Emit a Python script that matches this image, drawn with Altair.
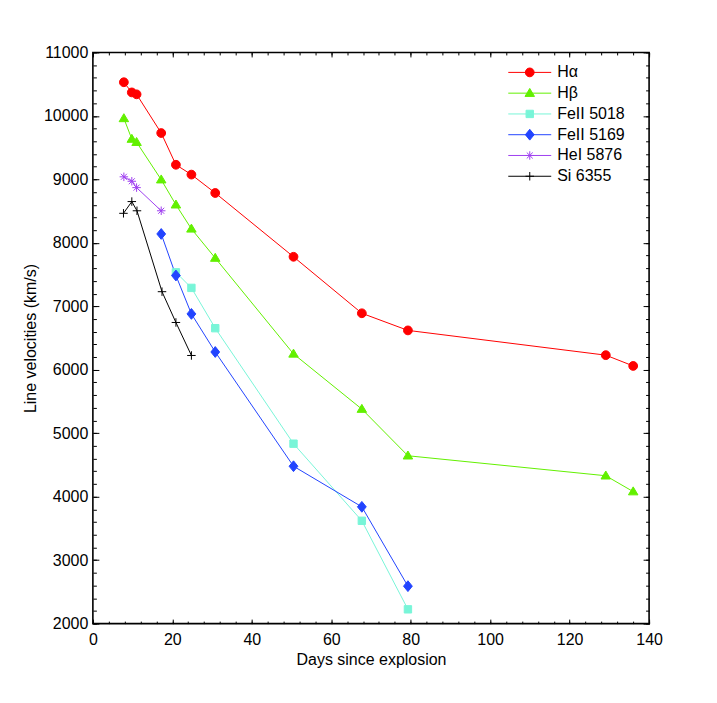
import altair as alt
import pandas as pd

# ---------------- data ----------------
series_names = ["Hα", "Hβ", "FeII 5018", "FeII 5169", "HeI 5876", "Si 6355"]
series_colors = ["#ff0000", "#62f000", "#78f5d8", "#2244ff", "#a040f0", "#000000"]

ha_days = [7.8, 9.8, 11.0, 17.2, 20.9, 24.8, 30.8, 50.5, 67.7, 79.3, 129.1, 136.0]
ha_vel = [10530, 10370, 10340, 9730, 9230, 9075, 8785, 7780, 6890, 6620, 6230, 6060]

hb_days = [7.8, 9.8, 11.0, 17.2, 20.9, 24.8, 30.8, 50.5, 67.7, 79.3, 129.1, 136.0]
hb_vel = [9960, 9635, 9585, 8995, 8600, 8220, 7760, 6250, 5380, 4645, 4330, 4080]

fe5018_days = [20.9, 24.8, 30.8, 50.5, 67.7, 79.3]
fe5018_vel = [7535, 7290, 6655, 4835, 3620, 2225]

fe5169_days = [17.2, 20.9, 24.8, 30.8, 50.5, 67.7, 79.3]
fe5169_vel = [8140, 7485, 6880, 6280, 4480, 3840, 2590]

he_days = [7.8, 9.8, 11.0, 17.2]
he_vel = [9040, 8970, 8870, 8505]

si_days = [7.7, 9.8, 11.1, 17.4, 20.9, 24.8]
si_vel = [8465, 8650, 8505, 7230, 6745, 6225]

x_major = [0, 20, 40, 60, 80, 100, 120, 140]
x_minor = list(range(0, 141, 4))
y_major = [2000, 3000, 4000, 5000, 6000, 7000, 8000, 9000, 10000, 11000]
y_minor = list(range(2000, 11001, 200))

all_days = [ha_days, hb_days, fe5018_days, fe5169_days, he_days, si_days]
all_vels = [ha_vel, hb_vel, fe5018_vel, fe5169_vel, he_vel, si_vel]

rows = []
for name, ds, vs in zip(series_names, all_days, all_vels):
    for d, v in zip(ds, vs):
        rows.append({"series": name, "day": d, "vel": v})
df = pd.DataFrame(rows)

# ---------------- marker shapes ----------------
def fmt(v):
    return f"{v:.4f}".rstrip("0").rstrip(".")

def marker_paths(s):
    r = 0.88 * s
    circle = f"M{fmt(-r)},0A{fmt(r)},{fmt(r)} 0 1,1 {fmt(r)},0A{fmt(r)},{fmt(r)} 0 1,1 {fmt(-r)},0Z"
    tri = f"M0,{fmt(-0.95*s)}L{fmt(0.95*s)},{fmt(0.65*s)}L{fmt(-0.95*s)},{fmt(0.65*s)}Z"
    a = 0.74 * s
    square = f"M{fmt(-a)},{fmt(-a)}L{fmt(a)},{fmt(-a)}L{fmt(a)},{fmt(a)}L{fmt(-a)},{fmt(a)}Z"
    diamond = f"M0,{fmt(-1.08*s)}L{fmt(0.88*s)},0L0,{fmt(1.08*s)}L{fmt(-0.88*s)},0Z"
    b = 0.85 * s
    c = 0.6 * s
    aster = (f"M{fmt(-b)},0L{fmt(b)},0M0,{fmt(-b)}L0,{fmt(b)}"
             f"M{fmt(-c)},{fmt(-c)}L{fmt(c)},{fmt(c)}M{fmt(-c)},{fmt(c)}L{fmt(c)},{fmt(-c)}")
    p = 0.85 * s
    plus = f"M{fmt(-p)},0L{fmt(p)},0M0,{fmt(-p)}L0,{fmt(p)}"
    return [circle, tri, square, diamond, aster, plus]

point_size = 100          # unit = 5 px
legend_size = 1850        # unit = 21.5 px
point_shapes = marker_paths(1.0)
legend_shapes = ["M-1,0L1,0" + pth for pth in marker_paths(5.0 / 21.5)]

W, H = 557, 572
xscale = alt.Scale(domain=[0, 140], nice=False, zero=False)
yscale = alt.Scale(domain=[2000, 11000], nice=False, zero=False)
font = "Liberation Sans"

base = alt.Chart(df)

lines = base.mark_line(strokeWidth=1, clip=True).encode(
    x=alt.X("day:Q", scale=xscale, axis=alt.Axis(
        orient="bottom", values=x_major, ticks=False, domain=False, grid=False,
        labelPadding=8, labelFlush=False, labelFontSize=16, labelFont=font,
        labelColor="black", title="Days since explosion", titleFontSize=16,
        titleFont=font, titleFontWeight="normal", titleColor="black", titlePadding=4)),
    y=alt.Y("vel:Q", scale=yscale, axis=alt.Axis(
        orient="left", values=y_major, format="d", ticks=False, domain=False, grid=False,
        labelPadding=5, labelFontSize=16, labelFont=font, labelColor="black",
        title="Line velocities (km/s)", titleFontSize=16, titleFont=font,
        titleFontWeight="normal", titleColor="black", titlePadding=5)),
    stroke=alt.Stroke("series:N", scale=alt.Scale(domain=series_names, range=series_colors), legend=None),
    order=alt.Order("day:Q"),
)

points = base.mark_point(filled=False, opacity=1, size=point_size, strokeWidth=1).encode(
    x=alt.X("day:Q", scale=xscale, axis=None),
    y=alt.Y("vel:Q", scale=yscale, axis=None),
    shape=alt.Shape("series:N", scale=alt.Scale(domain=series_names, range=point_shapes), legend=None),
    fill=alt.Fill("series:N", scale=alt.Scale(domain=series_names, range=series_colors), legend=None),
    stroke=alt.Stroke("series:N", scale=alt.Scale(domain=series_names, range=series_colors), legend=None),
)

leg = alt.Legend(title=None, orient="none", legendX=415, legendY=12, padding=0,
                 labelFontSize=16, labelFont=font, labelColor="black",
                 symbolSize=legend_size, symbolStrokeWidth=1, symbolOffset=0,
                 clipHeight=16, rowPadding=4.8, labelOffset=5)

legend_layer = base.transform_filter("false").mark_point(
    filled=False, opacity=1, size=legend_size, strokeWidth=1).encode(
    shape=alt.Shape("series:N", scale=alt.Scale(domain=series_names, range=legend_shapes), legend=leg),
    fill=alt.Fill("series:N", scale=alt.Scale(domain=series_names, range=series_colors), legend=leg),
    stroke=alt.Stroke("series:N", scale=alt.Scale(domain=series_names, range=series_colors), legend=leg),
)

def tick_layer(xvals, yvals, xorient, yorient, xsize, ysize):
    return base.transform_filter("false").mark_point().encode(
        x=alt.X("day:Q", scale=xscale, axis=alt.Axis(
            orient=xorient, offset=-H, values=xvals, tickSize=xsize, tickColor="black",
            tickWidth=1, labels=False, domain=False, grid=False, title=None)),
        y=alt.Y("vel:Q", scale=yscale, axis=alt.Axis(
            orient=yorient, offset=-W, values=yvals, tickSize=ysize, tickColor="black",
            tickWidth=1, labels=False, domain=False, grid=False, title=None)),
    )

ticks = [
    tick_layer(x_major, y_major, "top", "right", 4.5, 6),
    tick_layer(x_minor, y_minor, "top", "right", 2.5, 3.5),
    tick_layer(x_major, y_major, "bottom", "left", 4.5, 6),
    tick_layer(x_minor, y_minor, "bottom", "left", 2.5, 3.5),
]

chart = alt.layer(lines, points, legend_layer, *ticks).resolve_scale(
    shape="independent", fill="independent", stroke="independent"
).resolve_axis(x="independent", y="independent").properties(
    width=W, height=H,
    autosize=alt.AutoSizeParams(type="none"),
    padding={"left": 85, "top": 44, "right": 60, "bottom": 75},
    background="white",
).configure_view(stroke="black", strokeWidth=1.6)

chart.save("out.html", embed_options={"renderer": "svg", "actions": False})
